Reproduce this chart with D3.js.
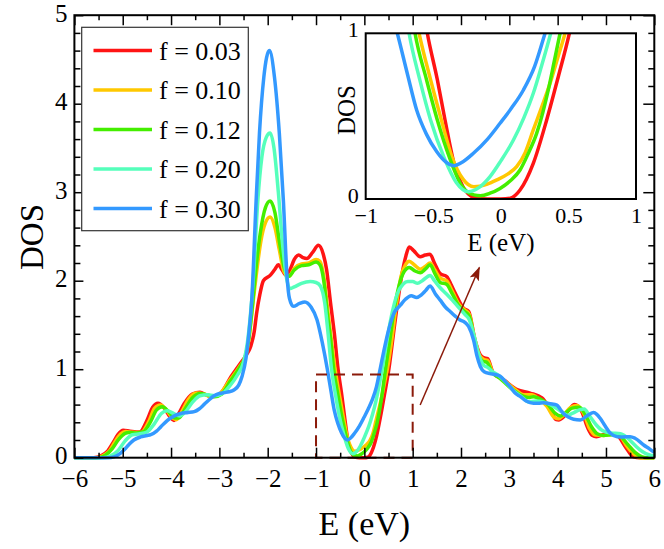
<!DOCTYPE html>
<html>
<head><meta charset="utf-8"></head>
<body>
<script src="https://cdn.jsdelivr.net/npm/d3@7/dist/d3.min.js"></script>
<script>

// [E (eV), DOS], one array per f
var dos003 = [[-6,0],[-5.6,0],[-5.45,0.02],[-5.32,0.07],[-5.2,0.17],[-5.1,0.26],[-4.99,0.31],[-4.85,0.3],[-4.65,0.29],[-4.5,0.42],[-4.38,0.57],[-4.27,0.615],[-4.14,0.56],[-4.02,0.46],[-3.94,0.42],[-3.84,0.5],[-3.73,0.61],[-3.56,0.72],[-3.4,0.74],[-3.28,0.71],[-3.18,0.69],[-3.07,0.7],[-2.97,0.73],[-2.76,0.915],[-2.56,1.07],[-2.42,1.18],[-2.35,1.26],[-2.28,1.42],[-2.23,1.63],[-2.16,1.85],[-2.09,2.0],[-1.95,2.06],[-1.85,2.13],[-1.78,2.18],[-1.7,2.12],[-1.62,2.06],[-1.54,2.12],[-1.45,2.24],[-1.36,2.29],[-1.27,2.26],[-1.19,2.25],[-1.07,2.32],[-0.95,2.4],[-0.85,2.3],[-0.78,2.12],[-0.7,1.75],[-0.62,1.4],[-0.544,1.0],[-0.47,0.72],[-0.413,0.477],[-0.34,0.195],[-0.28,0.074],[-0.2,0.01],[-0.1,0],[0,0],[0.07,0.005],[0.142,0.054],[0.24,0.215],[0.339,0.477],[0.425,0.738],[0.507,1.0],[0.64,1.56],[0.78,2.08],[0.86,2.28],[0.93,2.38],[1.02,2.34],[1.155,2.27],[1.26,2.29],[1.36,2.3],[1.45,2.2],[1.569,2.08],[1.708,2.045],[1.8,1.95],[1.88,1.86],[2.05,1.69],[2.16,1.65],[2.29,1.33],[2.4,1.16],[2.47,1.13],[2.55,1.12],[2.67,0.954],[2.88,0.88],[3.16,0.77],[3.43,0.73],[3.675,0.675],[3.85,0.54],[3.97,0.43],[4.02,0.426],[4.12,0.46],[4.23,0.54],[4.35,0.6],[4.5,0.52],[4.62,0.34],[4.72,0.25],[4.8,0.238],[5.02,0.27],[5.15,0.27],[5.23,0.257],[5.4,0.125],[5.57,0.01],[5.7,0],[6,0]];

var dos010 = [[-6,0],[-5.55,0],[-5.4,0.025],[-5.27,0.08],[-5.15,0.19],[-5.04,0.27],[-4.94,0.295],[-4.8,0.288],[-4.62,0.285],[-4.46,0.41],[-4.34,0.56],[-4.22,0.595],[-4.1,0.54],[-3.97,0.45],[-3.89,0.43],[-3.78,0.52],[-3.64,0.66],[-3.48,0.73],[-3.32,0.72],[-3.18,0.69],[-3.02,0.71],[-2.78,0.88],[-2.57,1.04],[-2.45,1.16],[-2.38,1.38],[-2.31,1.72],[-2.24,2.05],[-2.14,2.45],[-2.05,2.65],[-1.95,2.72],[-1.85,2.6],[-1.76,2.35],[-1.66,2.1],[-1.56,2.05],[-1.45,2.14],[-1.3,2.19],[-1.15,2.2],[-1.0,2.24],[-0.92,2.22],[-0.84,2.05],[-0.76,1.68],[-0.68,1.32],[-0.605,1.0],[-0.52,0.72],[-0.44,0.477],[-0.36,0.25],[-0.28,0.12],[-0.2,0.074],[-0.1,0.09],[-0.03,0.115],[0.05,0.15],[0.117,0.195],[0.18,0.28],[0.24,0.417],[0.3,0.55],[0.364,0.698],[0.42,0.85],[0.475,1.0],[0.56,1.3],[0.66,1.72],[0.76,2.05],[0.85,2.18],[0.93,2.22],[1.03,2.18],[1.155,2.13],[1.26,2.16],[1.36,2.2],[1.46,2.12],[1.57,2.03],[1.7,2.0],[1.82,1.88],[1.95,1.74],[2.08,1.67],[2.17,1.62],[2.28,1.35],[2.38,1.16],[2.47,1.11],[2.55,1.1],[2.66,0.96],[2.85,0.89],[3.1,0.78],[3.3,0.71],[3.46,0.71],[3.6,0.67],[3.78,0.58],[3.92,0.46],[4.02,0.44],[4.12,0.48],[4.27,0.57],[4.4,0.59],[4.54,0.5],[4.66,0.33],[4.78,0.255],[4.95,0.25],[5.12,0.265],[5.28,0.25],[5.42,0.14],[5.58,0.04],[5.7,0],[6,0]];

var dos012 = [[-6,0],[-5.5,0],[-5.35,0.03],[-5.22,0.1],[-5.08,0.21],[-4.95,0.275],[-4.87,0.285],[-4.72,0.28],[-4.58,0.29],[-4.42,0.41],[-4.3,0.54],[-4.18,0.575],[-4.05,0.52],[-3.92,0.45],[-3.84,0.45],[-3.7,0.56],[-3.55,0.68],[-3.4,0.725],[-3.25,0.71],[-3.1,0.69],[-2.95,0.72],[-2.78,0.86],[-2.58,1.02],[-2.46,1.15],[-2.39,1.35],[-2.32,1.7],[-2.25,2.1],[-2.15,2.55],[-2.05,2.82],[-1.95,2.9],[-1.85,2.77],[-1.76,2.45],[-1.66,2.15],[-1.56,2.05],[-1.45,2.12],[-1.3,2.17],[-1.15,2.18],[-1.0,2.21],[-0.92,2.18],[-0.84,2.0],[-0.76,1.6],[-0.69,1.3],[-0.635,1.0],[-0.55,0.72],[-0.47,0.477],[-0.38,0.25],[-0.29,0.08],[-0.2,0.025],[-0.15,0.02],[-0.08,0.035],[-0.006,0.064],[0.07,0.11],[0.142,0.175],[0.2,0.27],[0.265,0.396],[0.31,0.52],[0.351,0.658],[0.395,0.83],[0.438,1.0],[0.52,1.3],[0.62,1.68],[0.72,1.95],[0.82,2.1],[0.93,2.15],[1.05,2.11],[1.16,2.09],[1.26,2.13],[1.36,2.18],[1.46,2.08],[1.57,1.98],[1.7,1.96],[1.82,1.85],[1.95,1.72],[2.08,1.65],[2.17,1.6],[2.27,1.36],[2.36,1.16],[2.45,1.09],[2.53,1.08],[2.65,0.96],[2.8,0.9],[3.0,0.8],[3.2,0.72],[3.4,0.68],[3.5,0.69],[3.65,0.66],[3.8,0.6],[3.95,0.5],[4.06,0.47],[4.15,0.5],[4.3,0.56],[4.45,0.57],[4.58,0.48],[4.7,0.35],[4.82,0.27],[4.95,0.25],[5.15,0.26],[5.3,0.24],[5.45,0.15],[5.6,0.06],[5.75,0.01],[5.85,0],[6,0]];

var dos020 = [[-6,0],[-5.4,0],[-5.25,0.02],[-5.1,0.08],[-4.95,0.19],[-4.8,0.26],[-4.65,0.27],[-4.5,0.29],[-4.35,0.38],[-4.2,0.5],[-4.08,0.53],[-3.95,0.5],[-3.82,0.47],[-3.7,0.52],[-3.55,0.63],[-3.4,0.7],[-3.25,0.71],[-3.1,0.7],[-2.95,0.72],[-2.8,0.8],[-2.62,0.94],[-2.5,1.08],[-2.42,1.3],[-2.36,1.6],[-2.3,2.0],[-2.205,2.9],[-2.12,3.4],[-2.03,3.62],[-1.95,3.67],[-1.87,3.5],[-1.78,3.0],[-1.69,2.4],[-1.6,2.0],[-1.54,1.91],[-1.45,1.93],[-1.3,1.97],[-1.12,1.99],[-1.0,1.98],[-0.91,1.94],[-0.82,1.75],[-0.75,1.4],[-0.679,1.0],[-0.6,0.72],[-0.52,0.477],[-0.42,0.25],[-0.33,0.1],[-0.24,0.044],[-0.16,0.07],[-0.08,0.135],[0,0.23],[0.093,0.356],[0.17,0.49],[0.24,0.638],[0.3,0.8],[0.369,1.0],[0.46,1.3],[0.56,1.6],[0.68,1.85],[0.8,1.96],[0.9,1.99],[1.0,1.99],[1.1,1.97],[1.2,2.0],[1.36,2.06],[1.45,2.0],[1.57,1.92],[1.7,1.85],[1.82,1.78],[1.95,1.7],[2.08,1.62],[2.17,1.56],[2.27,1.38],[2.36,1.18],[2.46,1.05],[2.55,1.02],[2.66,0.97],[2.8,0.92],[2.95,0.84],[3.1,0.75],[3.25,0.69],[3.4,0.63],[3.55,0.64],[3.7,0.63],[3.85,0.6],[4.0,0.55],[4.1,0.51],[4.2,0.48],[4.3,0.5],[4.45,0.54],[4.55,0.55],[4.65,0.48],[4.8,0.37],[4.95,0.3],[5.1,0.28],[5.3,0.27],[5.45,0.22],[5.6,0.14],[5.75,0.07],[5.9,0.03],[6,0.02]];

var dos030 = [[-6,0],[-5.3,0],[-5.18,0.01],[-5.05,0.05],[-4.97,0.09],[-4.87,0.15],[-4.77,0.2],[-4.63,0.235],[-4.5,0.25],[-4.42,0.26],[-4.3,0.3],[-4.21,0.35],[-4.08,0.42],[-3.94,0.47],[-3.8,0.5],[-3.65,0.51],[-3.52,0.52],[-3.42,0.55],[-3.32,0.6],[-3.2,0.66],[-3.11,0.7],[-3.0,0.725],[-2.9,0.735],[-2.8,0.745],[-2.7,0.765],[-2.6,0.82],[-2.53,0.92],[-2.45,1.12],[-2.39,1.4],[-2.33,1.78],[-2.24,2.9],[-2.17,3.67],[-2.08,4.3],[-1.965,4.6],[-1.86,4.3],[-1.76,3.67],[-1.675,2.9],[-1.6,2.05],[-1.55,1.8],[-1.47,1.71],[-1.35,1.74],[-1.23,1.76],[-1.1,1.7],[-0.98,1.56],[-0.87,1.3],[-0.766,1.0],[-0.69,0.75],[-0.623,0.537],[-0.55,0.39],[-0.475,0.286],[-0.41,0.225],[-0.351,0.201],[-0.28,0.225],[-0.203,0.276],[-0.1,0.36],[-0.006,0.457],[0.08,0.55],[0.167,0.658],[0.25,0.8],[0.327,1.0],[0.42,1.25],[0.52,1.48],[0.62,1.64],[0.74,1.72],[0.85,1.79],[0.97,1.83],[1.08,1.81],[1.18,1.84],[1.27,1.89],[1.36,1.94],[1.47,1.85],[1.57,1.78],[1.68,1.7],[1.78,1.65],[1.88,1.6],[1.98,1.556],[2.08,1.53],[2.16,1.48],[2.26,1.33],[2.33,1.15],[2.4,1.03],[2.48,0.97],[2.6,0.95],[2.7,0.94],[2.81,0.92],[2.92,0.86],[3.02,0.8],[3.12,0.73],[3.23,0.69],[3.35,0.64],[3.5,0.615],[3.6,0.615],[3.71,0.62],[3.85,0.61],[3.985,0.595],[4.05,0.55],[4.12,0.5],[4.22,0.46],[4.33,0.434],[4.47,0.426],[4.6,0.47],[4.74,0.51],[4.81,0.49],[4.88,0.445],[4.98,0.36],[5.09,0.275],[5.23,0.238],[5.35,0.235],[5.5,0.238],[5.6,0.22],[5.78,0.144],[5.9,0.1],[6,0.06]];

var series = [dos003, dos010, dos012, dos020, dos030];
var seriesLabels = ["f = 0.03", "f = 0.10", "f = 0.12", "f = 0.20", "f = 0.30"];
var colors = ["#ff1414", "#ffc800", "#44ee00", "#55ffbb", "#3399ff"];

var xTicks = [-6, -5, -4, -3, -2, -1, 0, 1, 2, 3, 4, 5, 6];
var yTicks = [0, 1, 2, 3, 4, 5];
var insetXTicks = [-1, -0.5, 0, 0.5, 1];
var insetYTicks = [0, 1];

// zoom box and arrow, in data units
var zoomBox = [-1, 1, 0, 0.94];
var arrowFrom = [1.155, 0.595];
var arrowTo = [2.38, 2.15];

var w = 664;
var h = 549;
var boxColor = "#8b1a0a";
var serif = "'Liberation Serif'";
var fmt = function(d) { return d3.format("")(d); };

d3.select("body").style("margin", "0px");

var svg = d3.select("body").append("svg")
    .attr("width", w)
    .attr("height", h)
    .style("display", "block");

var x = d3.scaleLinear().domain([-6, 6]).range([74.4, 654.3]);
var y = d3.scaleLinear().domain([0, 5]).range([457.7, 15.2]);

var line = d3.line()
    .x(function(d) { return x(d[0]); })
    .y(function(d) { return y(d[1]); })
    .curve(d3.curveMonotoneX);

// curves
svg.append("g").selectAll("path")
    .data(series)
    .enter()
    .append("path")
    .attr("d", line)
    .attr("fill", "none")
    .attr("stroke", function(d, i) { return colors[i]; })
    .attr("stroke-width", 3.5)
    .attr("stroke-linejoin", "round");

// dashed zoom box
svg.append("rect")
    .attr("x", x(zoomBox[0]))
    .attr("y", y(zoomBox[3]))
    .attr("width", x(zoomBox[1]) - x(zoomBox[0]))
    .attr("height", y(zoomBox[2]) - y(zoomBox[3]))
    .attr("fill", "none")
    .attr("stroke", boxColor)
    .attr("stroke-width", 2)
    .attr("stroke-dasharray", "11,7");

// arrow
svg.append("defs").append("marker")
    .attr("id", "head")
    .attr("viewBox", "0 0 14 10")
    .attr("refX", 13)
    .attr("refY", 5)
    .attr("markerWidth", 14)
    .attr("markerHeight", 10)
    .attr("markerUnits", "userSpaceOnUse")
    .attr("orient", "auto")
    .append("path")
    .attr("d", "M0,0 L14,5 L0,10 L3,5 z")
    .attr("fill", boxColor);

svg.append("line")
    .attr("x1", x(arrowFrom[0]))
    .attr("y1", y(arrowFrom[1]))
    .attr("x2", x(arrowTo[0]))
    .attr("y2", y(arrowTo[1]))
    .attr("stroke", boxColor)
    .attr("stroke-width", 1.5)
    .attr("marker-end", "url(#head)");

// axes, ticks pointing in on all four sides
function minorTicks(lo, hi, step) {
    return d3.range(lo, hi + step / 2, step).filter(function(v) {
        return Math.abs(v - Math.round(v)) > 1e-6;
    });
}
var xMinor = minorTicks(-6, 6, 0.5);
var yMinor = minorTicks(0, 5, 0.2);

function addAxis(axis, tx, ty) {
    var g = svg.append("g")
        .attr("transform", "translate(" + tx + "," + ty + ")")
        .call(axis);
    g.attr("font-family", null).attr("font-size", null);
    g.select(".domain").remove();
    g.selectAll("line").attr("stroke", "#000").attr("stroke-width", 1.5);
    g.selectAll("text")
        .attr("fill", "#000")
        .attr("font-family", serif)
        .attr("font-size", "25px");
    return g;
}

addAxis(d3.axisBottom(x).tickValues(xTicks).tickSize(-10).tickPadding(12).tickFormat(fmt), 0, y(0));
addAxis(d3.axisBottom(x).tickValues(xMinor).tickSize(-5).tickFormat(""), 0, y(0));
addAxis(d3.axisTop(x).tickValues(xTicks).tickSize(-10).tickFormat(""), 0, y(5));
addAxis(d3.axisTop(x).tickValues(xMinor).tickSize(-5).tickFormat(""), 0, y(5));
addAxis(d3.axisLeft(y).tickValues(yTicks).tickSize(-9).tickPadding(7).tickFormat(fmt), x(-6), 0)
    .selectAll("text").attr("dy", "0.25em");
addAxis(d3.axisLeft(y).tickValues(yMinor).tickSize(-6).tickFormat(""), x(-6), 0);
addAxis(d3.axisRight(y).tickValues(yTicks).tickSize(-11).tickFormat(""), x(6), 0);
addAxis(d3.axisRight(y).tickValues(yMinor).tickSize(-6).tickFormat(""), x(6), 0);

svg.append("rect")
    .attr("x", x(-6))
    .attr("y", y(5))
    .attr("width", x(6) - x(-6))
    .attr("height", y(0) - y(5))
    .attr("fill", "none")
    .attr("stroke", "#000")
    .attr("stroke-width", 2);

svg.append("text")
    .attr("x", (x(-6) + x(6)) / 2)
    .attr("y", 535)
    .attr("text-anchor", "middle")
    .attr("font-family", serif)
    .attr("font-size", "34px")
    .text("E (eV)");

svg.append("text")
    .attr("transform", "translate(43,237) rotate(-90)")
    .attr("text-anchor", "middle")
    .attr("font-family", serif)
    .attr("font-size", "33px")
    .text("DOS");

// legend
var legend = svg.append("g");
legend.append("rect")
    .attr("x", 81.7)
    .attr("y", 27.3)
    .attr("width", 166.6)
    .attr("height", 203.4)
    .attr("fill", "#fff")
    .attr("stroke", "#333")
    .attr("stroke-width", 1.2);

var rows = legend.selectAll("g.row")
    .data(seriesLabels)
    .enter()
    .append("g")
    .attr("class", "row")
    .attr("transform", function(d, i) { return "translate(0," + (50.5 + i * 39.5) + ")"; });

rows.append("line")
    .attr("x1", 93.5)
    .attr("x2", 152)
    .attr("stroke", function(d, i) { return colors[i]; })
    .attr("stroke-width", 3.5);

rows.append("text")
    .attr("x", 159)
    .attr("y", 9)
    .attr("font-family", serif)
    .attr("font-size", "26px")
    .text(function(d) { return d; });

// inset
var xi = d3.scaleLinear().domain([-1, 1]).range([365.7, 636]);
var yi = d3.scaleLinear().domain([0, 1]).range([199, 33.3]);

var inset = svg.append("g");
inset.append("rect")
    .attr("x", xi(-1))
    .attr("y", yi(1))
    .attr("width", xi(1) - xi(-1))
    .attr("height", yi(0) - yi(1))
    .attr("fill", "#fff");

svg.select("defs").append("clipPath")
    .attr("id", "insetClip")
    .append("rect")
    .attr("x", xi(-1))
    .attr("y", yi(1))
    .attr("width", xi(1) - xi(-1))
    .attr("height", yi(0) - yi(1));

var lineInset = d3.line()
    .x(function(d) { return xi(d[0]); })
    .y(function(d) { return yi(d[1]); })
    .curve(d3.curveMonotoneX);

inset.append("g")
    .attr("clip-path", "url(#insetClip)")
    .selectAll("path")
    .data(series)
    .enter()
    .append("path")
    .attr("d", lineInset)
    .attr("fill", "none")
    .attr("stroke", function(d, i) { return colors[i]; })
    .attr("stroke-width", 3.5);

inset.append("rect")
    .attr("x", xi(-1))
    .attr("y", yi(1))
    .attr("width", xi(1) - xi(-1))
    .attr("height", yi(0) - yi(1))
    .attr("fill", "none")
    .attr("stroke", "#000")
    .attr("stroke-width", 2);

var ix = inset.append("g")
    .attr("transform", "translate(0," + yi(0) + ")")
    .call(d3.axisBottom(xi).tickValues(insetXTicks).tickSize(0).tickPadding(8).tickFormat(fmt));
ix.attr("font-family", null).attr("font-size", null);
ix.select(".domain").remove();
ix.selectAll("text").attr("font-family", serif).attr("font-size", "22px");

var iy = inset.append("g")
    .attr("transform", "translate(" + xi(-1) + ",0)")
    .call(d3.axisLeft(yi).tickValues(insetYTicks).tickSize(0).tickPadding(7).tickFormat(fmt));
iy.attr("font-family", null).attr("font-size", null);
iy.select(".domain").remove();
iy.selectAll("text").attr("font-family", serif).attr("font-size", "22px").attr("dy", "0.15em");

inset.append("text")
    .attr("x", (xi(-1) + xi(1)) / 2)
    .attr("y", 251)
    .attr("text-anchor", "middle")
    .attr("font-family", serif)
    .attr("font-size", "25px")
    .text("E (eV)");

inset.append("text")
    .attr("transform", "translate(355,110) rotate(-90)")
    .attr("text-anchor", "middle")
    .attr("font-family", serif)
    .attr("font-size", "25px")
    .text("DOS");

</script>
</body>
</html>
